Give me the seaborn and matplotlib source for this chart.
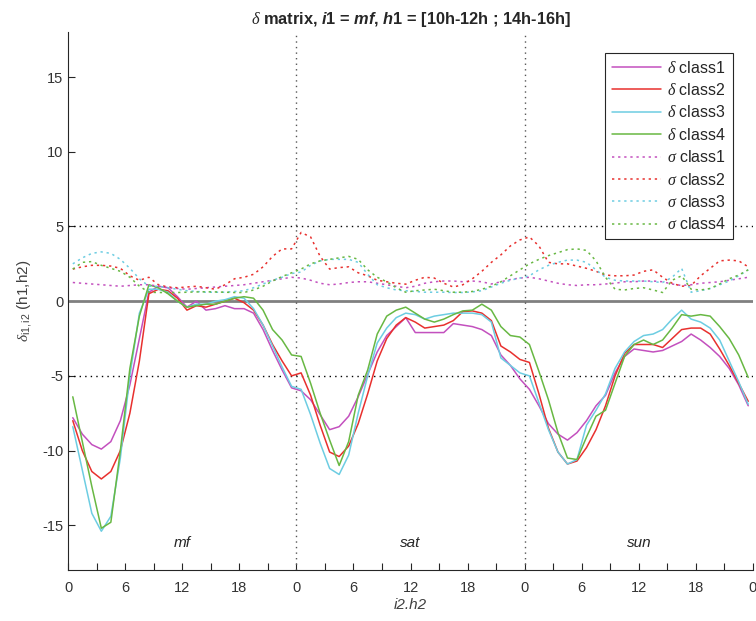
import numpy as np
import pandas as pd
import matplotlib
matplotlib.use("Agg")
import matplotlib.pyplot as plt
import seaborn as sns
from matplotlib.ticker import MultipleLocator, FixedLocator

# hourly values over three day types (mf, sat, sun), 72 points
hours = np.arange(72) + 0.5
day_names = ["mf", "sat", "sun"]
classes = ["class1", "class2", "class3", "class4"]

delta1 = [-7.8, -8.9, -9.6, -9.9, -9.4, -8.0, -5.6, -2.5, 0.6, 1.0, 0.9, 0.3,
          -0.4, 0.0, -0.6, -0.5, -0.3, -0.5, -0.5, -0.8, -1.9, -3.3, -4.6, -5.8,
          -6.0, -6.6, -7.6, -8.6, -8.4, -7.7, -6.4, -4.9, -3.4, -2.3, -1.7, -1.1,
          -2.1, -2.1, -2.1, -2.1, -1.5, -1.6, -1.7, -1.9, -2.3, -3.6, -4.3, -5.2,
          -5.9, -7.0, -8.2, -8.9, -9.3, -8.8, -8.0, -7.0, -6.3, -4.8, -3.7, -3.2,
          -3.3, -3.4, -3.3, -3.0, -2.7, -2.2, -2.6, -3.1, -3.7, -4.5, -5.6, -7.0]
delta2 = [-8.0, -10.0, -11.4, -11.9, -11.4, -10.0, -7.5, -4.0, 0.5, 0.8, 0.7, 0.2,
          -0.6, -0.3, -0.4, -0.2, 0.0, 0.2, -0.1, -0.6, -1.6, -2.9, -4.0, -5.0,
          -4.8, -6.3, -8.3, -10.1, -10.4, -9.7, -8.2, -6.2, -4.0, -2.5, -1.6, -1.1,
          -1.4, -1.8, -1.7, -1.6, -1.3, -0.7, -0.65, -0.8, -1.3, -3.0, -3.4, -3.9,
          -4.1, -6.2, -8.5, -10.1, -10.9, -10.7, -9.8, -8.6, -7.0, -5.0, -3.5, -2.9,
          -2.9, -2.9, -3.1, -2.5, -1.9, -1.8, -1.8, -2.2, -3.2, -4.3, -5.5, -6.7]
delta3 = [-8.4, -11.3, -14.2, -15.4, -14.4, -10.5, -5.0, -0.8, 0.8, 0.8, 0.6, 0.0,
          -0.4, -0.2, -0.2, 0.0, 0.1, 0.3, 0.2, -0.5, -1.6, -3.0, -4.4, -5.7,
          -5.9, -7.6, -9.5, -11.2, -11.6, -10.3, -7.5, -5.0, -2.8, -1.8, -1.1, -0.8,
          -0.9, -1.2, -1.0, -0.9, -0.8, -0.8, -0.8, -0.9, -1.4, -3.8, -4.3, -4.8,
          -5.0, -6.8, -8.6, -10.1, -10.9, -10.6, -8.3, -7.3, -6.2, -4.5, -3.4, -2.7,
          -2.3, -2.2, -1.9, -1.2, -0.6, -1.2, -1.4, -1.8, -2.6, -4.0, -5.4, -6.9]
delta4 = [-6.4, -9.4, -12.4, -15.2, -14.8, -10.0, -4.5, -1.0, 1.1, 0.9, 0.5, 0.0,
          -0.4, -0.3, -0.2, -0.2, 0.0, 0.2, 0.3, 0.2, -0.6, -1.9, -2.6, -3.6,
          -3.7, -5.5, -7.5, -9.3, -11.0, -9.4, -6.3, -4.6, -2.2, -1.0, -0.6, -0.4,
          -0.8, -1.2, -1.4, -1.2, -0.9, -0.65, -0.6, -0.2, -0.6, -1.7, -2.3, -2.4,
          -2.9, -4.7, -6.6, -8.8, -10.5, -10.6, -9.1, -7.7, -7.3, -5.5, -3.7, -2.9,
          -2.6, -2.9, -2.6, -1.8, -0.9, -1.0, -0.9, -1.0, -1.7, -2.5, -3.6, -5.1]

sigma1 = [1.25, 1.2, 1.15, 1.1, 1.05, 1.0, 1.05, 1.1, 1.1, 1.0, 0.9, 0.85,
          0.8, 0.85, 0.9, 0.95, 1.0, 1.05, 1.1, 1.2, 1.3, 1.4, 1.5, 1.6,
          1.55, 1.4, 1.2, 1.1, 1.15, 1.25, 1.3, 1.3, 1.2, 1.1, 1.0, 0.9,
          1.0, 1.2, 1.3, 1.35, 1.35, 1.3, 1.35, 1.3, 1.15, 1.3, 1.45, 1.55,
          1.6, 1.5, 1.35, 1.2, 1.1, 1.05, 1.1, 1.1, 1.15, 1.2, 1.3, 1.3,
          1.35, 1.35, 1.3, 1.15, 1.05, 1.1, 1.2, 1.25, 1.3, 1.4, 1.5, 1.6]
sigma2 = [2.15, 2.3, 2.4, 2.4, 2.35, 2.2, 1.7, 1.4, 1.6, 1.1, 0.95, 0.9,
          0.95, 1.0, 0.9, 0.8, 1.1, 1.5, 1.6, 1.8, 2.3, 3.0, 3.5, 3.5,
          4.6, 4.3, 3.0, 2.15, 2.25, 2.3, 1.9, 1.7, 1.4, 1.3, 1.2, 1.14,
          1.4, 1.6, 1.55, 1.2, 0.95, 1.1, 1.5, 2.0, 2.6, 3.1, 3.7, 4.1,
          4.3, 3.7, 2.6, 2.5, 2.5, 2.35, 2.2, 2.0, 1.75, 1.7, 1.7, 1.75,
          2.0, 2.1, 1.6, 1.2, 1.0, 1.05, 1.7, 2.2, 2.7, 2.75, 2.7, 2.3]
sigma3 = [2.5, 2.9, 3.2, 3.3, 3.2, 2.8, 2.2, 1.5, 1.0, 1.0, 0.9, 0.8,
          0.7, 0.65, 0.6, 0.6, 0.6, 0.65, 0.7, 0.9, 1.15, 1.4, 1.6, 1.85,
          1.95, 2.4, 2.7, 2.8, 2.8, 2.8, 2.6, 1.8, 1.1, 0.9, 0.75, 0.7,
          0.65, 0.6, 0.6, 0.6, 0.58, 0.58, 0.62, 0.7, 0.95, 1.2, 1.4, 1.55,
          1.7, 2.1, 2.4, 2.6, 2.75, 2.75, 2.6, 2.1, 1.6, 1.4, 1.35, 1.35,
          1.35, 1.3, 1.25, 1.6, 2.2, 0.6, 0.7, 0.85, 1.1, 1.35, 1.7, 2.1]
sigma4 = [2.15, 2.6, 2.65, 2.4, 2.2, 2.0, 1.6, 1.0, 0.6, 0.58, 0.58, 0.58,
          0.6, 0.62, 0.63, 0.62, 0.6, 0.58, 0.58, 0.75, 1.0, 1.35, 1.65, 1.9,
          2.15, 2.5, 2.7, 2.8, 2.9, 3.0, 2.8, 2.1, 1.6, 1.3, 0.9, 0.6,
          0.7, 0.75, 0.8, 0.7, 0.6, 0.6, 0.65, 0.8, 1.0, 1.3, 1.7, 2.1,
          2.5, 2.8, 3.05, 3.25, 3.45, 3.5, 3.4, 2.7, 1.6, 0.8, 0.75, 0.85,
          0.9, 0.75, 0.58, 1.4, 1.7, 0.8, 0.75, 0.85, 1.15, 1.5, 1.75, 2.1]

colors = ["#c350be", "#e8302e", "#6dcde2", "#68b843"]

sns.set_theme(style="white")
plt.rcParams["font.family"] = ["Liberation Sans", "DejaVu Sans"]
plt.rcParams["axes.unicode_minus"] = False
plt.rcParams["mathtext.fontset"] = "custom"
plt.rcParams["mathtext.rm"] = "Liberation Sans"
plt.rcParams["mathtext.it"] = "Liberation Serif:italic"
plt.rcParams["mathtext.bf"] = "Liberation Sans:bold"
try:
    plt.rcParams["mathtext.bfit"] = "Liberation Sans:bold:italic"
except KeyError:
    pass

fig = plt.figure(figsize=(7.56, 6.21), dpi=100)
ax = fig.add_axes([0.09, 0.082, 0.906, 0.866])

# reference lines
ax.axhline(0, color="#808080", lw=2, zorder=1)
for yv in (5, -5):
    ax.axhline(yv, color="black", lw=1, ls=(0, (1, 3)), zorder=1)
for xv in (24, 48):
    ax.axvline(xv, color="#555555", lw=1, ls=(0, (1, 3)), zorder=1)

deltas = [delta1, delta2, delta3, delta4]
sigmas = [sigma1, sigma2, sigma3, sigma4]
for c, vals, col in zip(classes, deltas, colors):
    sns.lineplot(x=hours, y=vals, color=col, lw=1.1, ax=ax,
                 label=r"$\delta$ " + c)
for c, vals, col in zip(classes, sigmas, colors):
    sns.lineplot(x=hours, y=vals, color=col, lw=1.1, ls=(0, (1.5, 2.5)), ax=ax,
                 label=r"$\sigma$ " + c)

for i, name in enumerate(day_names):
    ax.text(24 * i + 12, -16.2, name, style="italic", fontsize=11,
            ha="center", va="center", color="#262626")

ax.set_xlim(0, 72)
ax.set_ylim(-18, 18)
ax.xaxis.set_major_locator(MultipleLocator(6))
ax.xaxis.set_minor_locator(MultipleLocator(3))
ax.set_xticklabels([str(int(t) % 24) for t in ax.get_xticks()])
ax.yaxis.set_major_locator(FixedLocator([-15, -10, -5, 0, 5, 10, 15]))
ax.tick_params(axis="both", which="both", direction="in", length=5,
               width=0.8, color="#262626", labelsize=10.5, labelcolor="#333333",
               bottom=True, left=True)
ax.tick_params(axis="x", pad=8)

for s in ("top", "right"):
    ax.spines[s].set_visible(False)
for s in ("left", "bottom"):
    ax.spines[s].set_color("#262626")
    ax.spines[s].set_linewidth(0.8)

ax.set_xlabel("i2.h2", style="italic", fontsize=11, color="#404040", labelpad=2)
ax.set_ylabel(r"$\delta_{\rm i1,i2}$ (h1,h2)", fontsize=11, color="#404040",
              labelpad=6)
try:
    ax.set_title(r"$\delta$ matrix, $\mathbfit{i}$1 = $\mathbfit{mf}$, $\mathbfit{h}$1 = [10h-12h ; 14h-16h]",
                 fontsize=11.8, fontweight="bold", color="#262626", pad=6)
    fig.canvas.draw()
except Exception:
    ax.set_title(r"$\delta$ matrix, $i$1 = $mf$, $h$1 = [10h-12h ; 14h-16h]",
                 fontsize=11.8, fontweight="bold", color="#262626", pad=6)

leg = ax.legend(loc="upper right", bbox_to_anchor=(0.971, 0.961), fontsize=11.5,
                handlelength=3.1, frameon=True, fancybox=False,
                edgecolor="#262626", framealpha=1, borderpad=0.4,
                borderaxespad=0, labelspacing=0.4, handletextpad=0.4)
leg.get_frame().set_linewidth(0.8)

fig.savefig("out.png", dpi=100)
